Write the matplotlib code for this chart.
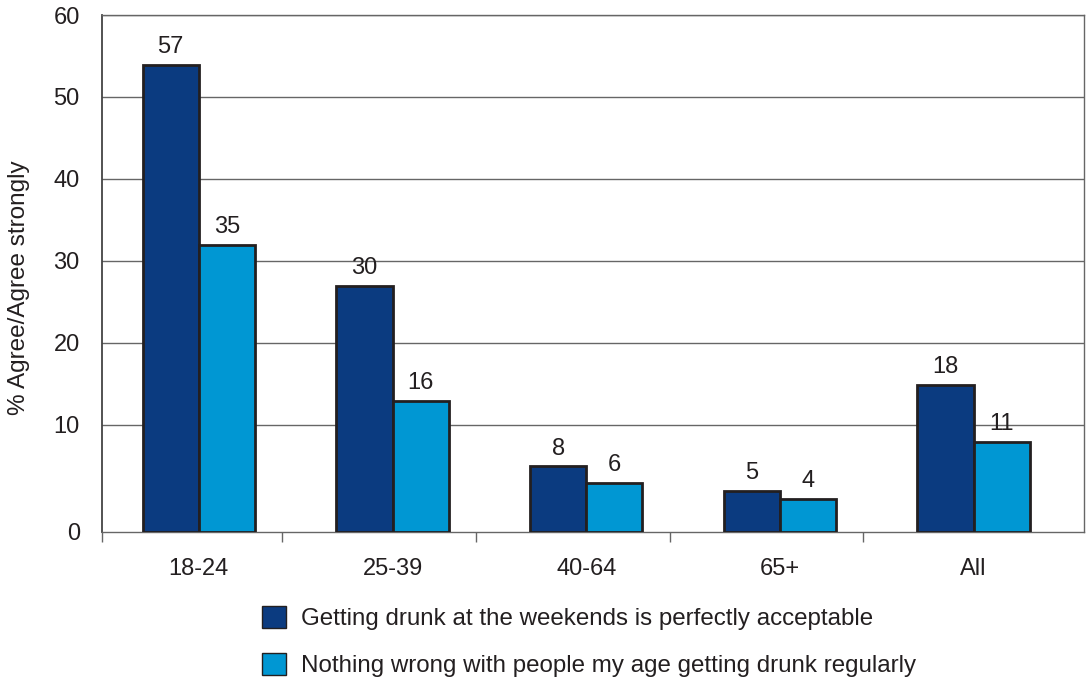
import matplotlib
matplotlib.use("Agg")
from matplotlib import pyplot as plt
from matplotlib.patches import Patch
import numpy as np

plt.rcParams['font.family'] = ['Liberation Sans', 'DejaVu Sans']

categories = ["18-24", "25-39", "40-64", "65+", "All"]
weekends_ok = [57, 30, 8, 5, 18]
drunk_regularly = [35, 16, 6, 4, 11]
series_names = ["Getting drunk at the weekends is perfectly acceptable",
                "Nothing wrong with people my age getting drunk regularly"]
tick_values = [0, 10, 20, 30, 40, 50, 60]

DARK = "#0b3b80"
LIGHT = "#0097d3"
EDGE = "#231f20"
TEXT = "#231f20"
GRID = "#666666"
FS = 17

# the source chart's gridlines sit about 3 units above their labelled value
GRID_OFFSET = 3.1

fig = plt.figure(figsize=(10.86, 6.79), dpi=100)
ax = fig.add_axes([102/1086, 1 - 532/679, (1084 - 102)/1086, (532 - 15)/679])

x = np.arange(len(categories))
w = 0.29
b1 = ax.bar(x - w/2, weekends_ok, w, color=DARK, edgecolor=EDGE, linewidth=2, zorder=3)
b2 = ax.bar(x + w/2, drunk_regularly, w, color=LIGHT, edgecolor=EDGE, linewidth=2, zorder=3)

for bars, vals in [(b1, weekends_ok), (b2, drunk_regularly)]:
    for r, v in zip(bars, vals):
        ax.annotate(str(v), (r.get_x() + r.get_width()/2, r.get_height()),
                    xytext=(0, 5), textcoords="offset points",
                    ha="center", va="bottom", fontsize=FS, color=TEXT)

ytick_pos = [0] + [t + GRID_OFFSET for t in tick_values[1:]]
ax.set_ylim(0, tick_values[-1] + GRID_OFFSET)
ax.set_yticks(ytick_pos)
ax.set_yticklabels([str(t) for t in tick_values])
ax.set_yticks([0], minor=True)
ax.tick_params(axis="y", which="major", length=0, pad=16, labelsize=FS, labelcolor=TEXT)
ax.tick_params(axis="y", which="minor", length=7, width=1, color=GRID)
for t in ytick_pos[1:]:
    ax.axhline(t, color=GRID, linewidth=1, zorder=1)

ax.set_xlim(-0.5, len(categories) - 0.43)
ax.set_xticks(x)
ax.set_xticklabels(categories)
ax.set_xticks([-0.5] + list(x[:-1] + 0.43), minor=True)
ax.tick_params(axis="x", which="major", length=0, pad=19, labelsize=FS, labelcolor=TEXT)
ax.tick_params(axis="x", which="minor", length=7, width=1, color=GRID)

for s in ax.spines.values():
    s.set_color(GRID)
    s.set_linewidth(1)
ax.spines["left"].set_color("#444444")
ax.spines["left"].set_linewidth(1.3)

ax.set_ylabel("% Agree/Agree strongly", fontsize=17.5, color=TEXT)
ax.yaxis.set_label_coords(-0.073, 0.472)

handles = [Patch(facecolor=DARK, edgecolor=EDGE, linewidth=1),
           Patch(facecolor=LIGHT, edgecolor=EDGE, linewidth=1)]
fig.legend(handles, series_names, loc="upper left", bbox_to_anchor=(0.230, 0.125),
           frameon=False, fontsize=17.4, handlelength=1.0, handleheight=1.0,
           handletextpad=0.6, labelspacing=0.95, borderpad=0, labelcolor=TEXT)

fig.savefig("out.png", dpi=100)
